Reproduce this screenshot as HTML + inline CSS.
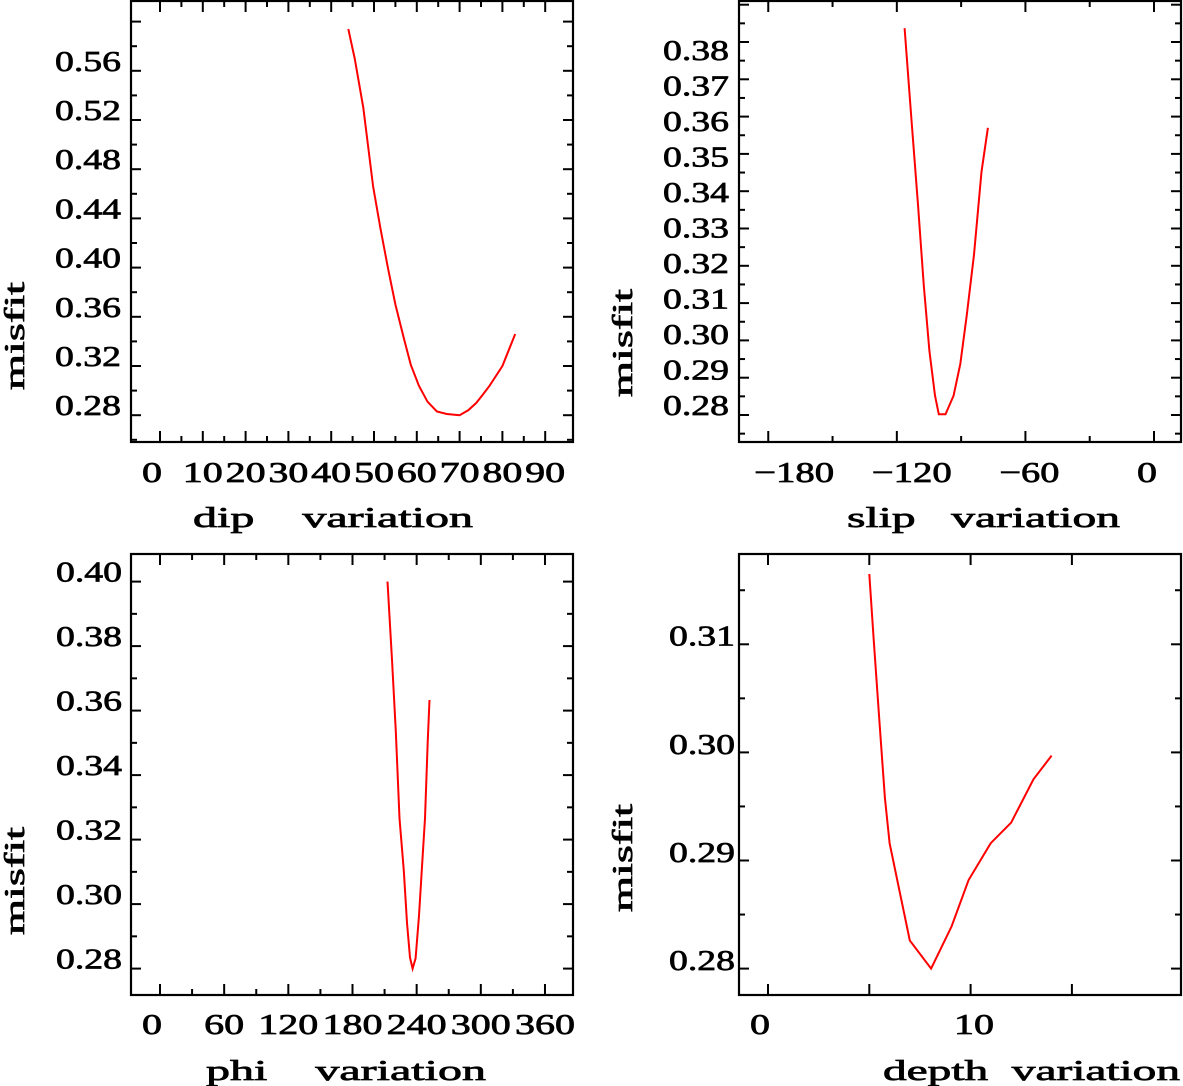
<!DOCTYPE html>
<html><head><meta charset="utf-8"><style>
html,body{margin:0;padding:0;background:#fff;}
svg{display:block;}
text{font-family:"Liberation Serif",serif;font-weight:normal;fill:#000;stroke:#000;stroke-width:0.7;white-space:pre;}
</style></head><body>
<svg id="chart" width="1183" height="1086" viewBox="0 0 1183 1086" xmlns="http://www.w3.org/2000/svg" xml:space="preserve"></svg>
<script>
// Dip panel data
const dipX = [44, 45.5, 47.5, 49.8, 51.5, 53.3, 55, 57, 58.6, 60.5, 62.5, 64.7, 67, 70, 72, 73.9, 75.5, 77, 80, 83];
const dipY = [0.594, 0.570, 0.530, 0.466, 0.432, 0.399, 0.370, 0.342, 0.321, 0.304, 0.291, 0.283, 0.281, 0.280, 0.284, 0.290, 0.297, 0.304, 0.320, 0.346];
const dipYTicks = [0.28, 0.32, 0.36, 0.40, 0.44, 0.48, 0.52, 0.56];
const dipXTicks = [0, 10, 20, 30, 40, 50, 60, 70, 80, 90];

// Slip panel data
const slipX = [-116.4, -113.4, -110.1, -107.4, -104.8, -102.2, -100.4, -97.3, -93.5, -90.4, -87.4, -84, -80.5, -77.5];
const slipY = [0.3837, 0.3608, 0.336, 0.3147, 0.2972, 0.2852, 0.2802, 0.2802, 0.2852, 0.2937, 0.3066, 0.323, 0.3452, 0.357];
const slipYTicks = [0.28, 0.29, 0.30, 0.31, 0.32, 0.33, 0.34, 0.35, 0.36, 0.37, 0.38];
const slipXTicks = [-180, -120, -60, 0];

// Phi panel data
const phiX = [212.7, 217, 220.5, 224, 228, 231, 233.8, 236.2, 239, 242.2, 245, 247.8, 250.3, 252];
const phiY = [0.40, 0.3752, 0.3536, 0.3266, 0.3104, 0.2942, 0.2834, 0.28, 0.2832, 0.2964, 0.3116, 0.3266, 0.3502, 0.3633];
const phiYTicks = [0.28, 0.30, 0.32, 0.34, 0.36, 0.38, 0.40];
const phiXTicks = [0, 60, 120, 180, 240, 300, 360];

// Depth panel data
const depthX = [5, 5.22, 5.5, 5.77, 6, 7, 8.05, 9.06, 9.9, 10.99, 12, 13.1, 14];
const depthY = [0.3165, 0.3103, 0.3029, 0.2958, 0.2916, 0.2826, 0.28, 0.2839, 0.2882, 0.2916, 0.2935, 0.2975, 0.2997];
const depthYTicks = [0.28, 0.29, 0.30, 0.31];
const depthXTicks = [0, 10];

const NS = "http://www.w3.org/2000/svg";
const svg = document.getElementById("chart");
function mk(tag, attrs, parent) {
  const e = document.createElementNS(NS, tag);
  for (const k in attrs) e.setAttribute(k, attrs[k]);
  (parent || svg).appendChild(e);
  return e;
}

function panel(p) {
  const g = mk("g", {});
  
  
  const {L, R, T, B} = p;
  const sx = v => p.x0 + v * p.xk;
  const sy = v => p.y0 - (v - p.yBase) * p.yk;
  const fr = mk("rect", {x: L, y: T, width: R - L, height: B - T, fill: "none", stroke: "#000", "stroke-width": 2.2}, g);
  
  
  for (let v = p.yMinTick; v <= p.yMaxTick + 1e-9; v += p.yMinor) {
    const y = sy(v);
    if (y < T + 2 || y > B - 2) continue;
    const r = (v - p.yBase) / p.yMajor;
    const major = Math.abs(r - Math.round(r)) < 1e-6;
    const len = major ? 10 : 6;
    const t1 = mk("line", {x1: L, x2: L + len, y1: y, y2: y, stroke: "#000", "stroke-width": 2}, g);
    
    
    const t2 = mk("line", {x1: R - len, x2: R, y1: y, y2: y, stroke: "#000", "stroke-width": 2}, g);
    
    
  }
  for (let i = 0; ; i++) {
    const v = p.xTickStart + i * p.xTickStep;
    const x = sx(v);
    if (x > R - 12) break;
    if (x < L + 5) continue;
    const major = (i % p.xMajorEvery) === 0;
    const len = major ? 11 : 6;
    const a = mk("line", {x1: x, x2: x, y1: B - len, y2: B, stroke: "#000", "stroke-width": 2}, g);
    
    
    const b = mk("line", {x1: x, x2: x, y1: T, y2: T + len, stroke: "#000", "stroke-width": 2}, g);
    
    
  }
  p.yTicks.forEach(v => {
    const s = v.toFixed(2);
    const t = mk("text", {x: p.yLabX, y: p.yLab(v), "text-anchor": "end", "font-size": 29, textLength: s.length * 16.5, lengthAdjust: "spacingAndGlyphs"}, g);
    
    
    t.textContent = s;
  });
  p.xTicks.forEach(v => {
    const s = (v < 0 ? "\u2212" + Math.abs(v) : String(v));
    const t = mk("text", {x: p.xLab(v), y: p.xLabY, "text-anchor": "middle", "font-size": 29, textLength: s.length * 20, lengthAdjust: "spacingAndGlyphs"}, g);
    
    
    t.textContent = s;
  });
  const xt = mk("text", {x: p.xtX, y: p.xtY, "font-size": 29, textLength: p.xtW, lengthAdjust: "spacingAndGlyphs"}, g);
  
  
  xt.textContent = p.xTitle;
  const yt = mk("text", {x: 0, y: 0, "font-size": 29, textLength: 108, lengthAdjust: "spacingAndGlyphs", transform: `translate(${p.ytX},${p.ytY}) rotate(-90)`}, g);
  
  
  yt.textContent = "misfit";
  const pts = p.xs.map((v, i) => sx(v).toFixed(1) + "," + sy(p.ys[i]).toFixed(1)).join(" ");
  const pl = mk("polyline", {points: pts, fill: "none", stroke: "#ff0000", "stroke-width": 2}, g);
  
  
}

panel({name: "dip-panel", L: 131, R: 573, T: 1, B: 442,
  x0: 160, xk: 4.28, y0: 415.2, yBase: 0.28, yk: 1230,
  yMinTick: 0.26, yMaxTick: 0.60, yMinor: 0.02, yMajor: 0.04,
  xTickStart: 0, xTickStep: 5, xMajorEvery: 2,
  yTicks: dipYTicks, xTicks: dipXTicks, xs: dipX, ys: dipY,
  yLabX: 121, yLab: v => 415.2 - (v - 0.28) * 1230,
  xLab: v => v === 0 ? 152 : 160 + v * 4.28, xLabY: 482,
  xTitle: "dip    variation", xtX: 193, xtY: 527, xtW: 280, ytX: 24, ytY: 390});

panel({name: "slip-panel", L: 739, R: 1181, T: 1, B: 442,
  x0: 1154, xk: 2.143, y0: 415, yBase: 0.28, yk: 3730,
  yMinTick: 0.275, yMaxTick: 0.395, yMinor: 0.005, yMajor: 0.01,
  xTickStart: -180, xTickStep: 30, xMajorEvery: 2,
  yTicks: slipYTicks, xTicks: slipXTicks, xs: slipX, ys: slipY,
  yLabX: 729, yLab: v => 415 - (v - 0.28) * 3550,
  xLab: v => 1147 + v * 1.96, xLabY: 482,
  xTitle: "slip   variation", xtX: 847, xtY: 527, xtW: 273, ytX: 632, ytY: 397});

panel({name: "phi-panel", L: 131, R: 573, T: 554, B: 995,
  x0: 160, xk: 1.0694, y0: 968.6, yBase: 0.28, yk: 3225,
  yMinTick: 0.27, yMaxTick: 0.41, yMinor: 0.01, yMajor: 0.02,
  xTickStart: 0, xTickStep: 30, xMajorEvery: 2,
  yTicks: phiYTicks, xTicks: phiXTicks, xs: phiX, ys: phiY,
  yLabX: 122, yLab: v => 968.6 - (v - 0.28) * 3225,
  xLab: v => v === 0 ? 152 : 160 + v * 1.0694, xLabY: 1034,
  xTitle: "phi    variation", xtX: 206, xtY: 1080, xtW: 280, ytX: 24, ytY: 935});

panel({name: "depth-panel", L: 739, R: 1181, T: 554, B: 995,
  x0: 768, xk: 20.26, y0: 968.6, yBase: 0.28, yk: 10810,
  yMinTick: 0.275, yMaxTick: 0.315, yMinor: 0.005, yMajor: 0.01,
  xTickStart: 0, xTickStep: 5, xMajorEvery: 1,
  yTicks: depthYTicks, xTicks: depthXTicks, xs: depthX, ys: depthY,
  yLabX: 735, yLab: v => 970 - (v - 0.28) * 10810,
  xLab: v => v === 0 ? 760 : 768 + v * 20.6, xLabY: 1034,
  xTitle: "depth  variation", xtX: 883, xtY: 1080, xtW: 297, ytX: 632, ytY: 912});
</script>
</body></html>
